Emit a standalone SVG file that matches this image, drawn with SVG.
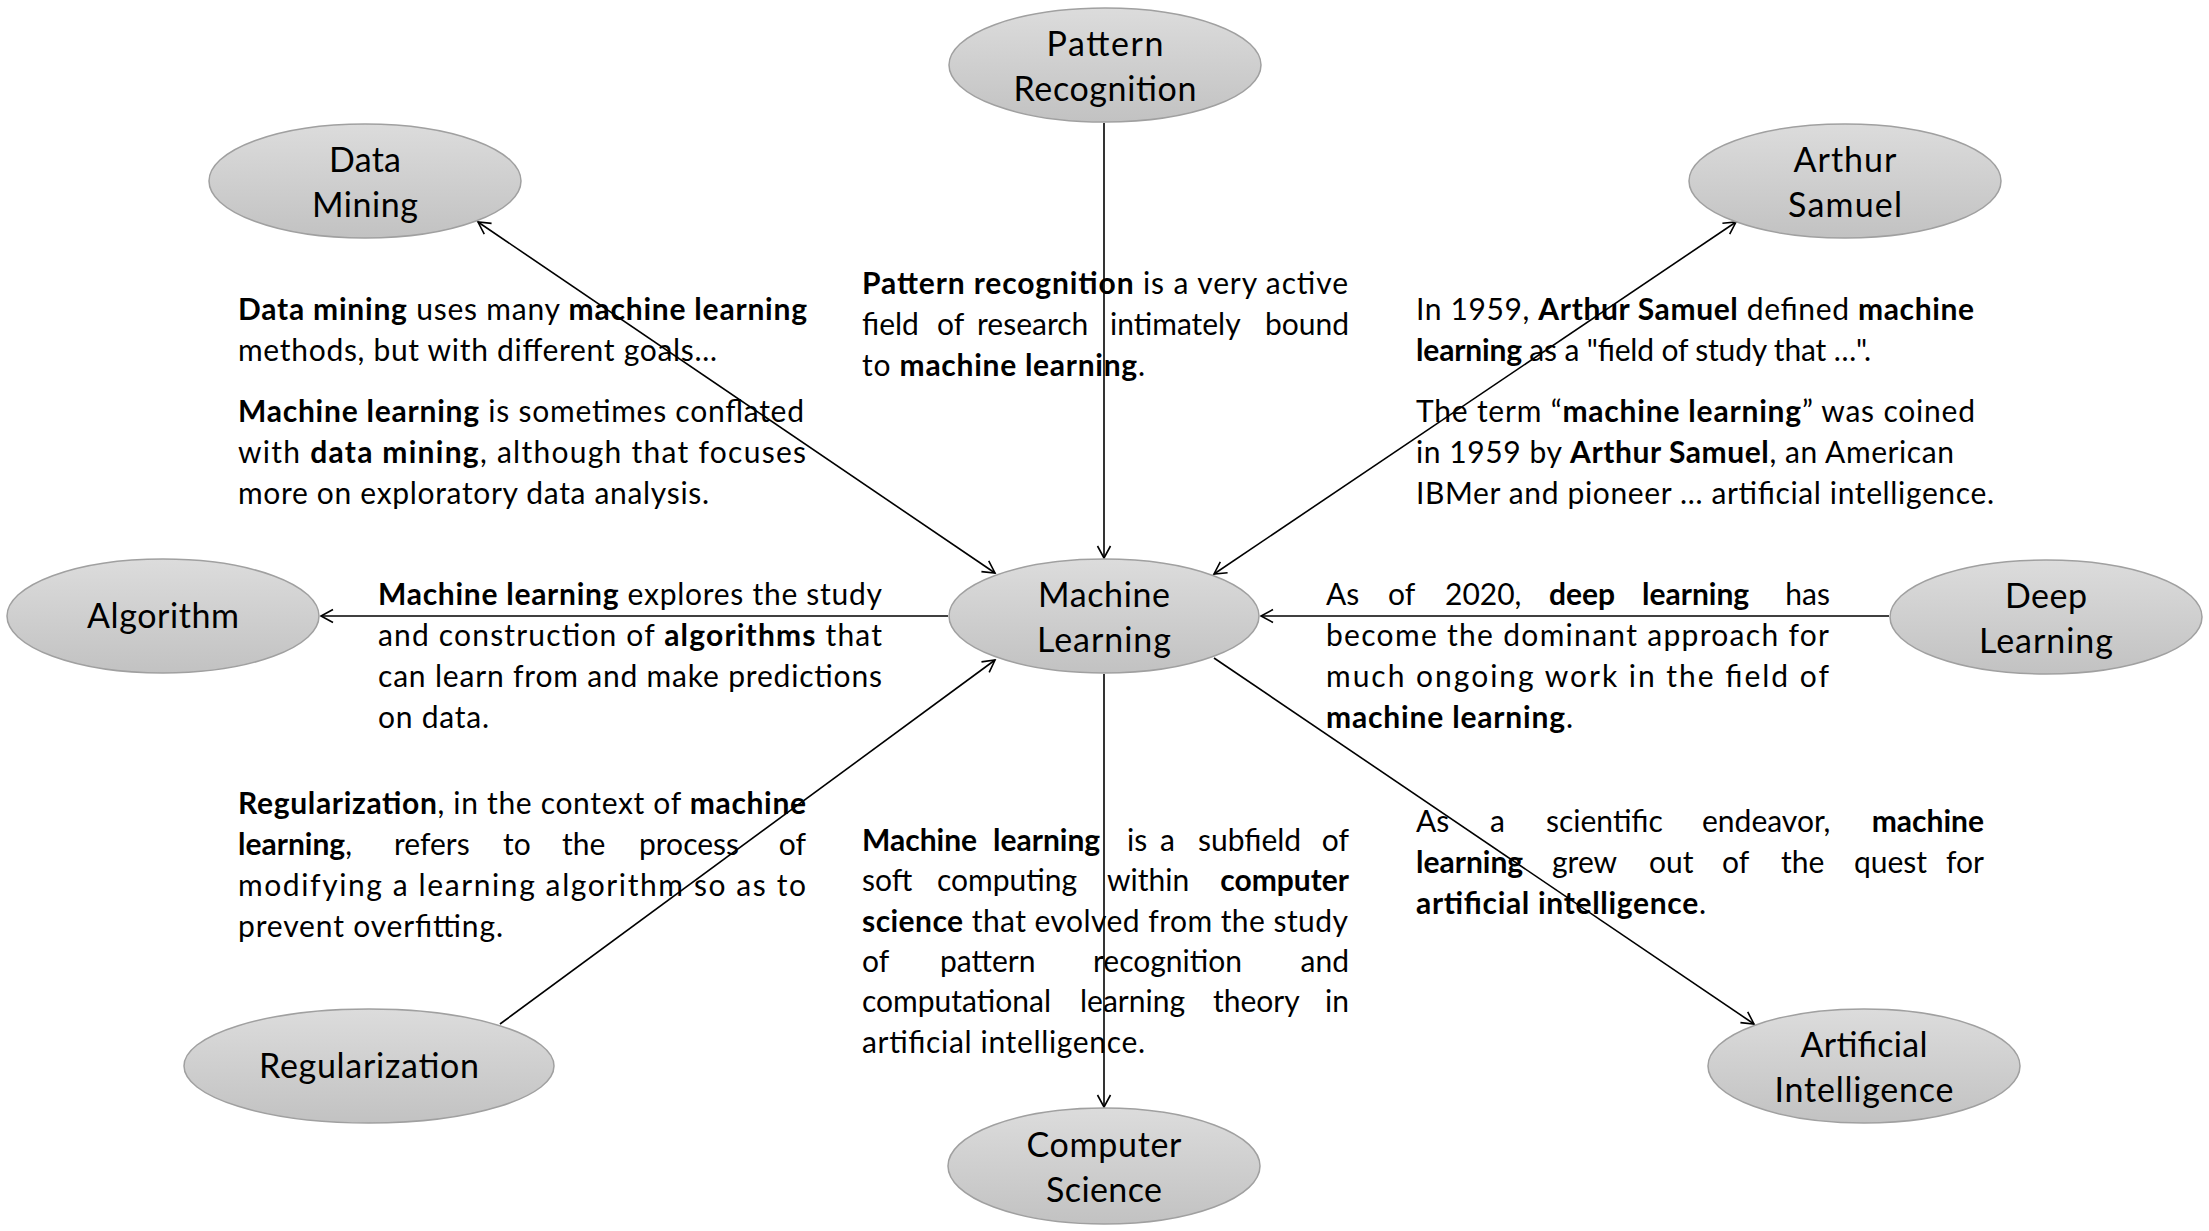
<svg xmlns="http://www.w3.org/2000/svg" width="2209" height="1231" viewBox="0 0 2209 1231">
<style>
.t{font-family:Lato,"Open Sans","Liberation Sans",sans-serif;font-size:30px;fill:#000}
.e{text-anchor:end}
.b{font-weight:bold}
.lbl{font-family:Lato,"Open Sans","Liberation Sans",sans-serif;font-size:34px;fill:#000;text-anchor:middle}
.node{fill:url(#g);stroke:#a0a0a0;stroke-width:1.5}
.c{stroke:#000;stroke-width:1.6;fill:none}
</style>
<defs>
<linearGradient id="g" x1="0" y1="0" x2="0" y2="1">
<stop offset="0" stop-color="#dcdcdc"/>
<stop offset="1" stop-color="#c2c2c2"/>
</linearGradient>
<marker id="a" markerUnits="userSpaceOnUse" markerWidth="16" markerHeight="16" refX="14" refY="8" orient="auto-start-reverse">
<path d="M2,1.5 L14,8 L2,14.5" fill="none" stroke="#000" stroke-width="1.6"/>
</marker>
</defs>
<rect width="2209" height="1231" fill="#fff"/>

<g id="connectors">
<line class="c" x1="1104" y1="123" x2="1104" y2="558" marker-end="url(#a)"/>
<line class="c" x1="478" y1="222" x2="995" y2="573" marker-start="url(#a)" marker-end="url(#a)"/>
<line class="c" x1="1736" y1="222" x2="1214" y2="574" marker-start="url(#a)" marker-end="url(#a)"/>
<line class="c" x1="948" y1="616" x2="321" y2="616" marker-end="url(#a)"/>
<line class="c" x1="1889" y1="616" x2="1261" y2="616" marker-end="url(#a)"/>
<line class="c" x1="500" y1="1024" x2="995" y2="660" marker-end="url(#a)"/>
<line class="c" x1="1214" y1="658" x2="1754" y2="1024" marker-end="url(#a)"/>
<line class="c" x1="1104" y1="674" x2="1104" y2="1107" marker-end="url(#a)"/>
</g>

<g id="node-pattern-recognition">
<ellipse class="node" cx="1105" cy="65" rx="156" ry="57"/>
<text class="lbl" x="1105" y="56" textLength="117">Pattern</text>
<text class="lbl" x="1105" y="101" textLength="183">Recognition</text>
</g>
<g id="node-machine-learning">
<ellipse class="node" cx="1104" cy="616" rx="155" ry="57"/>
<text class="lbl" x="1104" y="607" textLength="132">Machine</text>
<text class="lbl" x="1104" y="652" textLength="134">Learning</text>
</g>
<g id="node-data-mining">
<ellipse class="node" cx="365" cy="181" rx="156" ry="57"/>
<text class="lbl" x="365" y="172" textLength="72">Data</text>
<text class="lbl" x="365" y="217" textLength="106">Mining</text>
</g>
<g id="node-arthur-samuel">
<ellipse class="node" cx="1845" cy="181" rx="156" ry="57"/>
<text class="lbl" x="1845" y="172" textLength="103">Arthur</text>
<text class="lbl" x="1845" y="217" textLength="114">Samuel</text>
</g>
<g id="node-algorithm">
<ellipse class="node" cx="163" cy="616" rx="156" ry="57"/>
<text class="lbl" x="163" y="628" textLength="152">Algorithm</text>
</g>
<g id="node-deep-learning">
<ellipse class="node" cx="2046" cy="617" rx="156" ry="57"/>
<text class="lbl" x="2046" y="608" textLength="82">Deep</text>
<text class="lbl" x="2046" y="653" textLength="134">Learning</text>
</g>
<g id="node-regularization">
<ellipse class="node" cx="369" cy="1066" rx="185" ry="57"/>
<text class="lbl" x="369" y="1078" textLength="220">Regularization</text>
</g>
<g id="node-artificial-intelligence">
<ellipse class="node" cx="1864" cy="1066" rx="156" ry="57"/>
<text class="lbl" x="1864" y="1057" textLength="127">Artificial</text>
<text class="lbl" x="1864" y="1102" textLength="179">Intelligence</text>
</g>
<g id="node-computer-science">
<ellipse class="node" cx="1104" cy="1166" rx="156" ry="58"/>
<text class="lbl" x="1104" y="1157" textLength="155">Computer</text>
<text class="lbl" x="1104" y="1202" textLength="116">Science</text>
</g>

<g id="text-data-mining">
<text class="t" x="238" y="320" textLength="569" lengthAdjust="spacing"><tspan class="b">Data mining</tspan> uses many <tspan class="b">machine learning</tspan></text>
<text class="t" x="238" y="361" textLength="479" lengthAdjust="spacing">methods, but with different goals…</text>
<text class="t" x="238" y="422" textLength="566" lengthAdjust="spacing"><tspan class="b">Machine learning</tspan> is sometimes conflated</text>
<text class="t" x="238" y="463" textLength="568" lengthAdjust="spacing">with <tspan class="b">data mining</tspan>, although that focuses</text>
<text class="t" x="238" y="504" textLength="471" lengthAdjust="spacing">more on exploratory data analysis.</text>
</g>

<g id="text-pattern-recognition">
<text class="t" x="862" y="294" textLength="486" lengthAdjust="spacing"><tspan class="b">Pattern recognition</tspan> is a very active</text>
<text class="t" y="335"><tspan x="862">field</tspan><tspan x="937">of</tspan><tspan x="977">research</tspan><tspan x="1110">intimately</tspan></text>
<text class="t e" x="1349" y="335">bound</text>
<text class="t" x="862" y="376" textLength="283" lengthAdjust="spacing">to <tspan class="b">machine learning</tspan>.</text>
</g>

<g id="text-arthur-samuel">
<text class="t" x="1416" y="320" textLength="558" lengthAdjust="spacing">In 1959, <tspan class="b">Arthur Samuel</tspan> defined <tspan class="b">machine</tspan></text>
<text class="t" x="1416" y="361" textLength="455" lengthAdjust="spacing"><tspan class="b">learning</tspan> as a "field of study that …".</text>
<text class="t" x="1416" y="422" textLength="559" lengthAdjust="spacing">The term “<tspan class="b">machine learning</tspan>” was coined</text>
<text class="t" x="1416" y="463" textLength="538" lengthAdjust="spacing">in 1959 by <tspan class="b">Arthur Samuel</tspan>, an American</text>
<text class="t" x="1416" y="504" textLength="578" lengthAdjust="spacing">IBMer and pioneer … artificial intelligence.</text>
</g>

<g id="text-algorithm">
<text class="t" x="378" y="605" textLength="504" lengthAdjust="spacing"><tspan class="b">Machine learning</tspan> explores the study</text>
<text class="t" x="378" y="646" textLength="504" lengthAdjust="spacing">and construction of <tspan class="b">algorithms</tspan> that</text>
<text class="t" x="378" y="687" textLength="504" lengthAdjust="spacing">can learn from and make predictions</text>
<text class="t" x="378" y="728" textLength="111" lengthAdjust="spacing">on data.</text>
</g>

<g id="text-deep-learning">
<text class="t" y="605"><tspan x="1326">As</tspan><tspan x="1388">of</tspan><tspan x="1445">2020,</tspan><tspan x="1549" class="b">deep</tspan><tspan x="1642" class="b">learning</tspan></text>
<text class="t e" x="1830" y="605">has</text>
<text class="t" x="1326" y="646" textLength="503" lengthAdjust="spacing">become the dominant approach for</text>
<text class="t" x="1326" y="687" textLength="503" lengthAdjust="spacing">much ongoing work in the field of</text>
<text class="t" x="1326" y="728" textLength="247" lengthAdjust="spacing"><tspan class="b">machine learning</tspan>.</text>
</g>

<g id="text-regularization">
<text class="t" x="238" y="814" textLength="568" lengthAdjust="spacing"><tspan class="b">Regularization</tspan>, in the context of <tspan class="b">machine</tspan></text>
<text class="t" y="855"><tspan x="238" class="b">learning</tspan>,<tspan x="394">refers</tspan><tspan x="503">to</tspan><tspan x="562">the</tspan><tspan x="639">process</tspan></text>
<text class="t e" x="806" y="855">of</text>
<text class="t" x="238" y="896" textLength="568" lengthAdjust="spacing">modifying a learning algorithm so as to</text>
<text class="t" x="238" y="937" textLength="265" lengthAdjust="spacing">prevent overfitting.</text>
</g>

<g id="text-computer-science">
<text class="t" y="851"><tspan x="862" class="b">Machine</tspan><tspan x="993" class="b">learning</tspan><tspan x="1127">is</tspan><tspan x="1160">a</tspan><tspan x="1198">subfield</tspan></text>
<text class="t e" x="1349" y="851">of</text>
<text class="t" y="891"><tspan x="862">soft</tspan><tspan x="937">computing</tspan><tspan x="1107">within</tspan></text>
<text class="t e b" x="1349" y="891">computer</text>
<text class="t" x="862" y="932" textLength="486" lengthAdjust="spacing"><tspan class="b">science</tspan> that evolved from the study</text>
<text class="t" y="972"><tspan x="862">of</tspan><tspan x="940">pattern</tspan><tspan x="1093">recognition</tspan></text>
<text class="t e" x="1349" y="972">and</text>
<text class="t" y="1012"><tspan x="862">computational</tspan><tspan x="1080">learning</tspan><tspan x="1213">theory</tspan></text>
<text class="t e" x="1349" y="1012">in</text>
<text class="t" x="862" y="1053" textLength="283" lengthAdjust="spacing">artificial intelligence.</text>
</g>

<g id="text-artificial-intelligence">
<text class="t" y="832"><tspan x="1416">As</tspan><tspan x="1490">a</tspan><tspan x="1546">scientific</tspan><tspan x="1702">endeavor,</tspan></text>
<text class="t e b" x="1984" y="832">machine</text>
<text class="t" y="873"><tspan x="1416" class="b">learning</tspan><tspan x="1552">grew</tspan><tspan x="1649">out</tspan><tspan x="1722">of</tspan><tspan x="1781">the</tspan><tspan x="1854">quest</tspan></text>
<text class="t e" x="1984" y="873">for</text>
<text class="t" x="1416" y="914" textLength="290" lengthAdjust="spacing"><tspan class="b">artificial intelligence</tspan>.</text>
</g>
</svg>
